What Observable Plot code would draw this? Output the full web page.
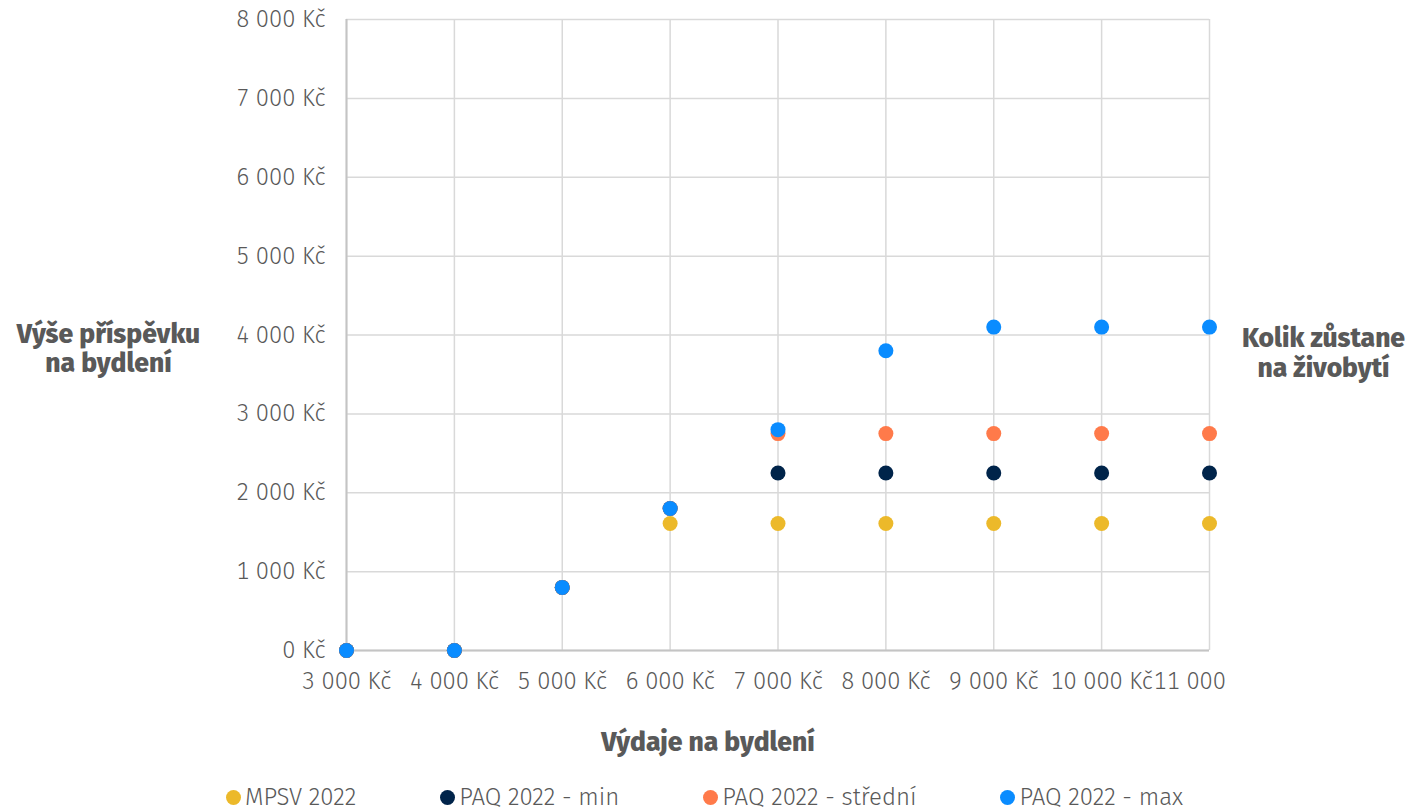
<!DOCTYPE html>
<html>
<head>
<meta charset="utf-8">
<script src="https://cdn.jsdelivr.net/npm/d3@7"></script>
<script src="https://cdn.jsdelivr.net/npm/@observablehq/plot@0.6"></script>
<style>
  body { margin: 0; background: #fff; font-family: "Fira Sans", Lato, sans-serif; }
  #legend { display: flex; justify-content: center; margin-top: 14px; line-height: 26px; font-size: 24px; font-weight: 300; color: #595959; }
  #legend .item { display: flex; align-items: center; margin: 0 42px; }
  #legend .sw { width: 15px; height: 15px; border-radius: 50%; margin-right: 4px; }
</style>
</head>
<body>
<div id="chart"></div>
<div id="legend"></div>
<script>
const xValues = [3000, 4000, 5000, 6000, 7000, 8000, 9000, 10000, 11000];
const xTickLabels = ["3 000 Kč", "4 000 Kč", "5 000 Kč", "6 000 Kč", "7 000 Kč", "8 000 Kč", "9 000 Kč", "10 000 Kč", "11 000\u00a0\u00a0\u00a0\u00a0\u00a0\u00a0"];
const yTicks = [0, 1000, 2000, 3000, 4000, 5000, 6000, 7000, 8000];
const yTickLabels = ["0 Kč", "1 000 Kč", "2 000 Kč", "3 000 Kč", "4 000 Kč", "5 000 Kč", "6 000 Kč", "7 000 Kč", "8 000 Kč"];
const seriesNames = ["MPSV 2022", "PAQ 2022 - min", "PAQ 2022 - střední", "PAQ 2022 - max"];
const seriesColors = ["#ecb92a", "#00244a", "#ff7a4a", "#0a8cff"];
const mpsv2022 = [0, 0, 800, 1610, 1610, 1610, 1610, 1610, 1610];
const paqMin = [0, 0, 800, 1800, 2250, 2250, 2250, 2250, 2250];
const paqStredni = [0, 0, 800, 1800, 2750, 2750, 2750, 2750, 2750];
const paqMax = [0, 0, 800, 1800, 2800, 3800, 4100, 4100, 4100];
const yTitle = "Výše příspěvku\nna bydlení";
const rightTitle = "Kolik zůstane\nna živobytí";
const xTitle = "Výdaje na bydlení";

const seriesValues = [mpsv2022, paqMin, paqStredni, paqMax];
const data = seriesNames.flatMap((s, i) => xValues.map((x, j) => ({x, y: seriesValues[i][j], series: s})));
const xLab = new Map(xValues.map((v, i) => [v, xTickLabels[i]]));
const yLab = new Map(yTicks.map((v, i) => [v, yTickLabels[i]]));

const chart = Plot.plot({
  width: 1409,
  height: 770,
  marginLeft: 346,
  marginRight: 200,
  marginTop: 19,
  marginBottom: 120,
  style: {fontFamily: '"Fira Sans", Lato, sans-serif', fontSize: "23.5px", fontWeight: 300, color: "#595959", background: "#fff"},
  x: {domain: [3000, 11000], ticks: xValues, tickFormat: d => xLab.get(d), tickSize: 0, tickPadding: 22, label: null},
  y: {domain: [0, 8000], ticks: yTicks, tickFormat: d => yLab.get(d), tickSize: 0, tickPadding: 21, label: null},
  color: {domain: seriesNames, range: seriesColors},
  marks: [
    Plot.gridX(xValues, {stroke: "#d9d9d9", strokeOpacity: 1, strokeWidth: 1.5}),
    Plot.gridY(yTicks, {stroke: "#d9d9d9", strokeOpacity: 1, strokeWidth: 1.5}),
    Plot.ruleY([0], {stroke: "#c4c4c4", strokeWidth: 2}),
    Plot.ruleX([3000], {stroke: "#c4c4c4", strokeWidth: 2}),
    Plot.dot(data, {x: "x", y: "y", fill: "series", r: 7.5}),
    Plot.text([yTitle], {frameAnchor: "left", textAnchor: "middle", dx: -238, dy: 13, fontWeight: 800, fontSize: 26.5, lineHeight: 1.1, fill: "#595959"}),
    Plot.text([rightTitle], {frameAnchor: "right", textAnchor: "middle", dx: 114, dy: 17, fontWeight: 800, fontSize: 26.5, lineHeight: 1.15, fill: "#595959"}),
    Plot.text([xTitle], {frameAnchor: "bottom", textAnchor: "middle", dx: -70, dy: 100, fontWeight: 800, fontSize: 26.5, fill: "#595959"})
  ]
});
document.getElementById("chart").appendChild(chart);

const legend = document.getElementById("legend");
seriesNames.forEach((s, i) => {
  const it = document.createElement("div");
  it.className = "item";
  const sw = document.createElement("span");
  sw.className = "sw";
  sw.style.background = seriesColors[i];
  it.appendChild(sw);
  it.appendChild(document.createTextNode(s));
  legend.appendChild(it);
});
</script>
</body>
</html>
